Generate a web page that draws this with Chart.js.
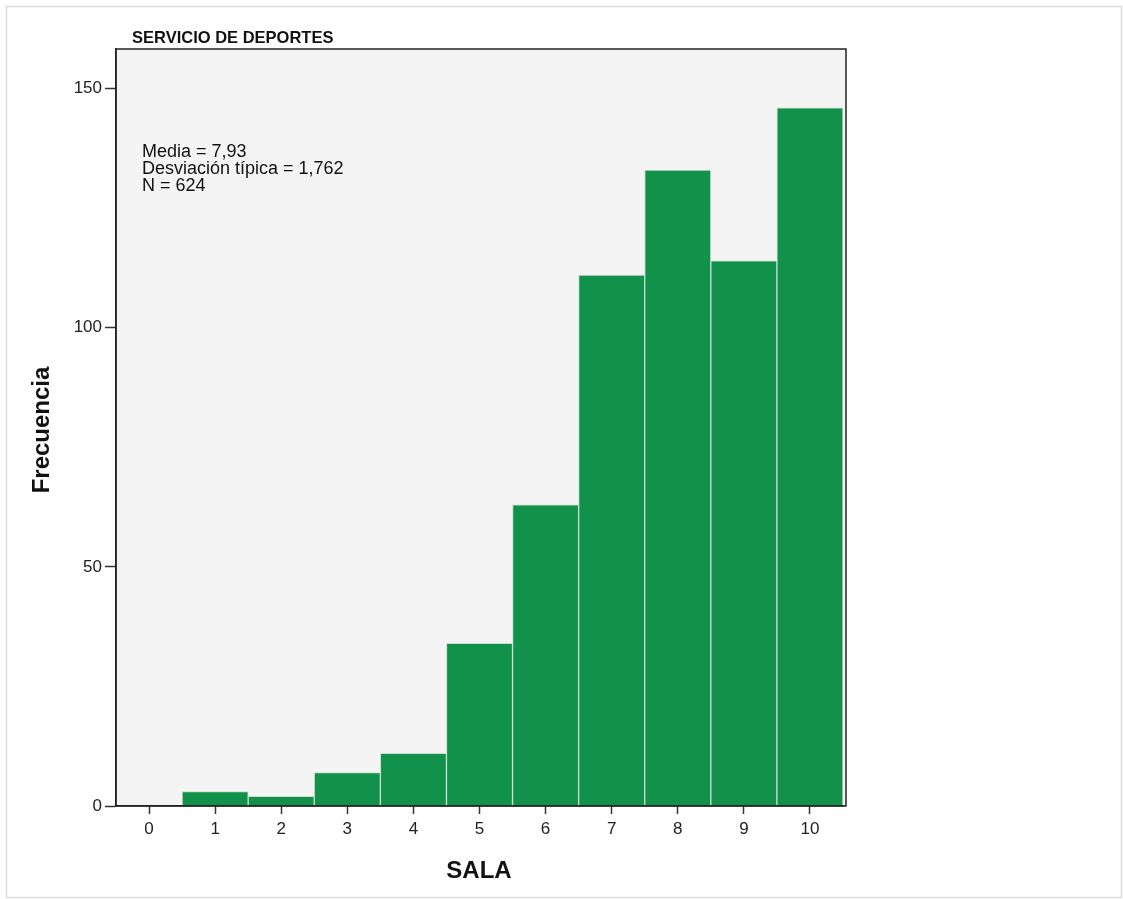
<!DOCTYPE html>
<html>
<head>
<meta charset="utf-8">
<script src="https://cdn.jsdelivr.net/npm/chart.js@4.4.1/dist/chart.umd.min.js"></script>
<style>
  html, body { margin: 0; padding: 0; background: #fff; }
  #wrap { width: 1123px; height: 899px; position: relative; }
</style>
</head>
<body>
<div id="wrap"><canvas id="chart" width="1123" height="899"></canvas></div>
<script>
// histogram of SALA scores
var categories = ["0", "1", "2", "3", "4", "5", "6", "7", "8", "9", "10"];
var frequencies = [0, 3, 2, 7, 11, 34, 63, 111, 133, 114, 146];
var yTicks = [0, 50, 100, 150];
var statsLines = ["Media = 7,93", "Desviación típica = 1,762", "N = 624"];

Chart.defaults.font.family = "'Liberation Sans', Arial, sans-serif";
Chart.defaults.font.size = 13;
Chart.defaults.color = "#222";

var decor = {
    id: "decor",
    beforeDraw: function (chart) {
        var c = chart.ctx, a = chart.chartArea;
        c.save();
        c.fillStyle = "#fff";
        c.fillRect(0, 0, chart.width, chart.height);
        c.strokeStyle = "#dcdcdc";
        c.lineWidth = 1.5;
        c.strokeRect(6.5, 6.5, 1115, 891);
        c.fillStyle = "#f4f4f4";
        c.fillRect(a.left, a.top, a.right + 3 - a.left, a.bottom - a.top);
        c.restore();
    },
    afterDraw: function (chart) {
        var c = chart.ctx, a = chart.chartArea;
        c.save();
        c.strokeStyle = "#222";
        c.lineWidth = 1.5;
        c.strokeRect(a.left, a.top, a.right + 3 - a.left, a.bottom - a.top);

        c.fillStyle = "#111";
        c.font = "bold 16.5px 'Liberation Sans', Arial, sans-serif";
        c.textBaseline = "middle";
        c.textAlign = "left";
        c.fillText("SERVICIO DE DEPORTES", 132, 38);

        c.font = "18px 'Liberation Sans', Arial, sans-serif";
        statsLines.forEach(function (t, i) {
            c.fillText(t, 142, 152 + i * 17);
        });

        c.font = "bold 24px 'Liberation Sans', Arial, sans-serif";
        c.textAlign = "center";
        c.fillText("SALA", 479, 871);

        c.save();
        c.translate(42, 430);
        c.rotate(-Math.PI / 2);
        c.fillText("Frecuencia", 0, 0);
        c.restore();
        c.restore();
    }
};

var ctx = document.getElementById("chart");
var histChart = new Chart(ctx, {
    type: "bar",
    data: {
        labels: categories,
        datasets: [
            {
                data: frequencies,
                backgroundColor: "#12914a",
                borderColor: "#c9dccf",
                borderWidth: 1,
                barPercentage: 1,
                categoryPercentage: 1,
            },
        ],
    },
    options: {
        responsive: false,
        animation: false,
        layout: {
            padding: { top: 49, right: 280, bottom: 0, left: 0 },
        },
        plugins: {
            legend: { display: false },
            tooltip: { enabled: false },
        },
        scales: {
            x: {
                offset: true,
                grid: {
                    offset: false,
                    drawOnChartArea: false,
                    drawTicks: true,
                    tickLength: 8,
                    tickWidth: 1.5,
                    tickColor: "#333",
                },
                border: { display: true, color: "#222", width: 1.5 },
                ticks: { maxRotation: 0, padding: 5, font: { size: 17 }, color: "#222" },
                afterFit: function (s) { s.height = 93; },
            },
            y: {
                min: 0,
                max: 158.3,
                grid: {
                    drawOnChartArea: false,
                    drawTicks: true,
                    tickLength: 11,
                    tickWidth: 1.5,
                    tickColor: "#333",
                },
                border: { display: true, color: "#222", width: 1.5 },
                ticks: { padding: 3, font: { size: 17 }, color: "#222" },
                afterBuildTicks: function (s) {
                    s.ticks = yTicks.map(function (v) { return { value: v }; });
                },
                afterFit: function (s) { s.width = 116; },
            },
        },
    },
    plugins: [decor],
});
</script>
</body>
</html>
